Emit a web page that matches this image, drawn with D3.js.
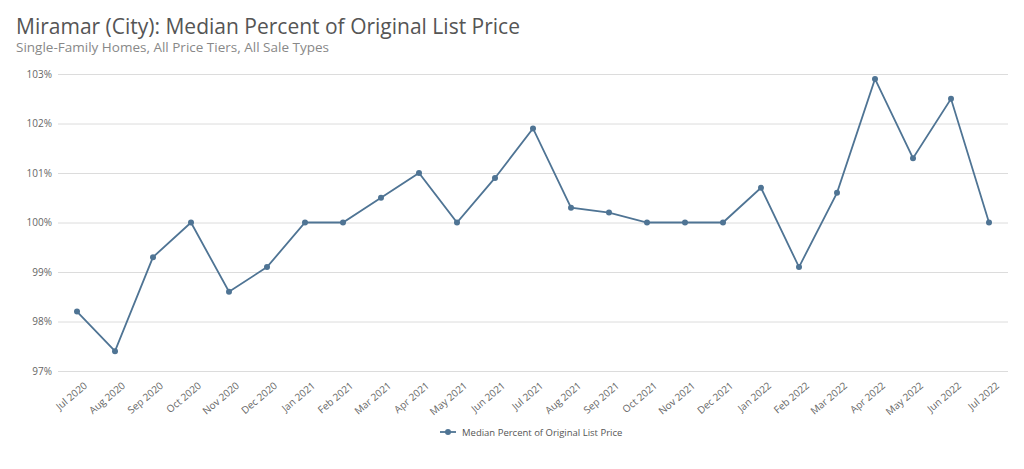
<!DOCTYPE html>
<html><head><meta charset="utf-8">
<script src="https://cdn.jsdelivr.net/npm/d3@7.9.0/dist/d3.min.js"></script>
<style>
body{margin:0;background:#fff;font-family:"Open Sans","Noto Sans",sans-serif;}
</style></head>
<body><svg id="c" width="1024" height="469"></svg>
<script>
const months = ['Jul 2020','Aug 2020','Sep 2020','Oct 2020','Nov 2020','Dec 2020','Jan 2021','Feb 2021','Mar 2021','Apr 2021','May 2021','Jun 2021','Jul 2021','Aug 2021','Sep 2021','Oct 2021','Nov 2021','Dec 2021','Jan 2022','Feb 2022','Mar 2022','Apr 2022','May 2022','Jun 2022','Jul 2022'];
const pct = [98.2,97.4,99.3,100,98.6,99.1,100,100,100.5,101,100,100.9,101.9,100.3,100.2,100,100,100,100.7,99.1,100.6,102.9,101.3,102.5,100];
const yTicks = [97,98,99,100,101,102,103];
const seriesName = 'Median Percent of Original List Price';
const color = '#4f7494';

const svg = d3.select('#c');
svg.append('text').attr('x',16).attr('y',34).attr('font-size',21).attr('fill','#555').text('Miramar (City): Median Percent of Original List Price');
svg.append('text').attr('x',16).attr('y',52).attr('font-size',13.5).attr('fill','#888').text('Single-Family Homes, All Price Tiers, All Sale Types');

const x = d3.scalePoint().domain(months).range([58,1008]).padding(0.5);
const y = d3.scaleLinear().domain([97,103]).range([371,74]);

const gy = svg.append('g').attr('transform','translate(58,0)')
  .call(d3.axisLeft(y).tickValues(yTicks).tickSize(-950).tickFormat(d => d + '%'));
gy.select('.domain').remove();
gy.selectAll('line').attr('stroke','#dcdcdc');
gy.selectAll('text').attr('fill','#666').attr('font-size',10).attr('x',-6).attr('font-family','"Open Sans",sans-serif');

const gx = svg.append('g').attr('transform','translate(0,371)').call(d3.axisBottom(x).tickSize(0));
gx.select('.domain').remove();
gx.selectAll('text').attr('fill','#666').attr('font-size',10).attr('font-family','"Open Sans",sans-serif')
  .attr('text-anchor','end').attr('transform','translate(4,8) rotate(-40)');

svg.append('path').datum(pct).attr('fill','none').attr('stroke',color).attr('stroke-width',1.8)
  .attr('d', d3.line().x((d,i)=>x(months[i])).y(d=>y(d)));
svg.selectAll('circle.p').data(pct).join('circle').attr('class','p')
  .attr('cx',(d,i)=>x(months[i])).attr('cy',d=>y(d)).attr('r',3).attr('fill',color);

const lg = svg.append('g').attr('transform','translate(440,432)');
lg.append('line').attr('x1',0).attr('x2',16).attr('stroke',color).attr('stroke-width',1.8);
lg.append('circle').attr('cx',8).attr('r',3).attr('fill',color);
lg.append('text').attr('x',22).attr('y',3.5).attr('font-size',9.5).attr('fill','#555').text(seriesName);
</script></body></html>
